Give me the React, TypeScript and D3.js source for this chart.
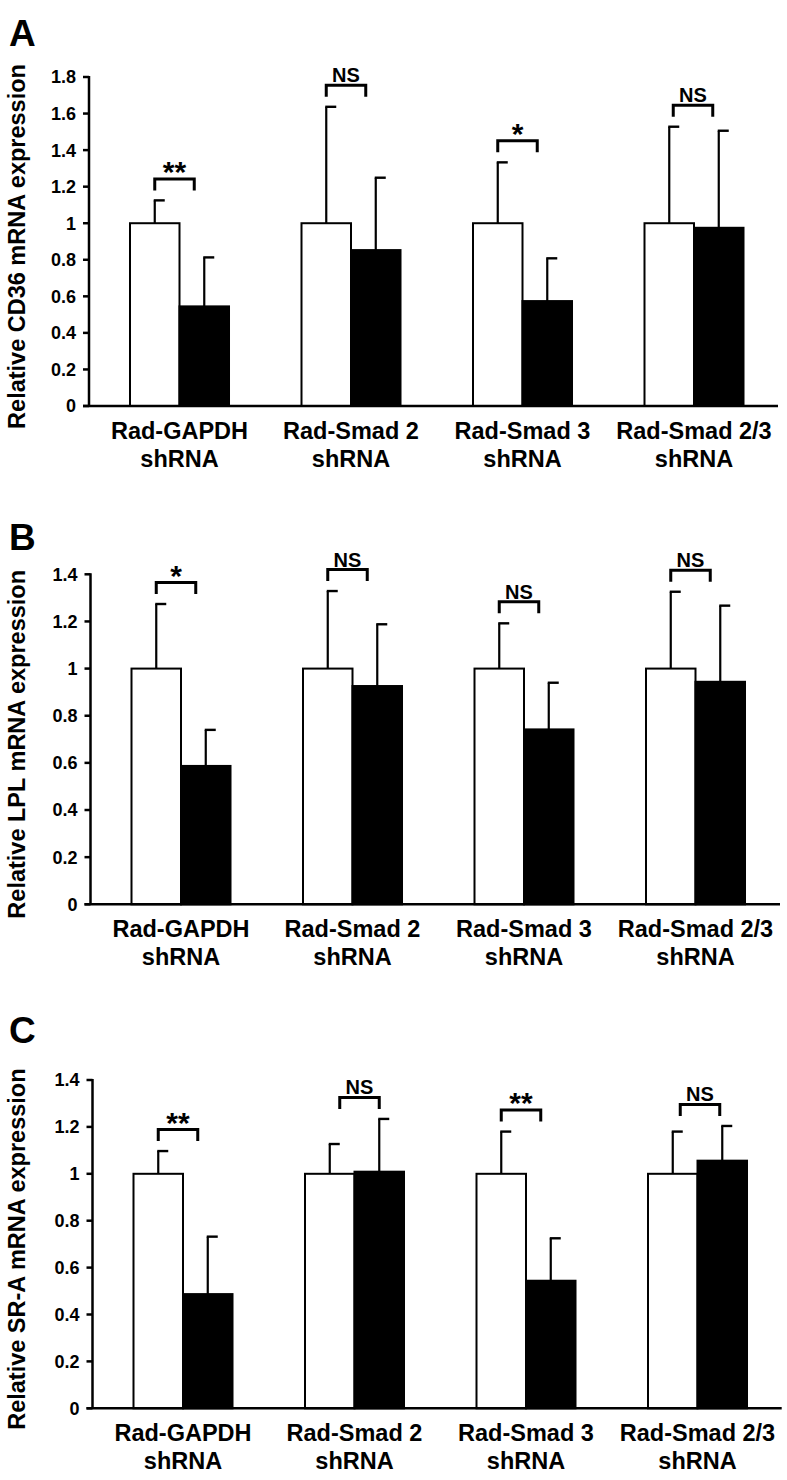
import React from 'react';
import * as d3 from 'd3';

// ---------- data ----------
const categories = ['Rad-GAPDH', 'Rad-Smad 2', 'Rad-Smad 3', 'Rad-Smad 2/3'];
const categorySub = 'shRNA';
const seriesKeys = ['control', 'knockdown'];

// Panel A — CD36
const cd36Control = [1, 1, 1, 1];
const cd36ControlSD = [0.125, 0.637, 0.333, 0.528];
const cd36Knockdown = [0.545, 0.853, 0.574, 0.975];
const cd36KnockdownSD = [0.268, 0.396, 0.234, 0.531];
const cd36Sig = ['**', 'NS', '*', 'NS'];
const cd36Ticks = [0, 0.2, 0.4, 0.6, 0.8, 1, 1.2, 1.4, 1.6, 1.8];

// Panel B — LPL
const lplControl = [1, 1, 1, 1];
const lplControlSD = [0.274, 0.329, 0.192, 0.326];
const lplKnockdown = [0.587, 0.926, 0.742, 0.944];
const lplKnockdownSD = [0.153, 0.262, 0.198, 0.323];
const lplSig = ['*', 'NS', 'NS', 'NS'];
const lplTicks = [0, 0.2, 0.4, 0.6, 0.8, 1, 1.2, 1.4];

// Panel C — SR-A
const sraControl = [1, 1, 1, 1];
const sraControlSD = [0.097, 0.127, 0.18, 0.18];
const sraKnockdown = [0.487, 1.009, 0.544, 1.056];
const sraKnockdownSD = [0.245, 0.225, 0.181, 0.148];
const sraSig = ['**', 'NS', '**', 'NS'];
const sraTicks = [0, 0.2, 0.4, 0.6, 0.8, 1, 1.2, 1.4];

// ---------- layout ----------
const FONT = '"Liberation Sans", Arial, Helvetica, sans-serif';

type PanelCfg = {
  letter: string;
  title: string;
  control: number[];
  controlSD: number[];
  knock: number[];
  knockSD: number[];
  sig: string[];
  ticks: number[];
  axisX: number;
  y0: number;
  yTop: number;
  xEnd: number;
  letterBaseline: number;
  bracketShift: number[];
};

const panels: PanelCfg[] = [
  {
    letter: 'A', title: 'Relative CD36 mRNA expression',
    control: cd36Control, controlSD: cd36ControlSD, knock: cd36Knockdown, knockSD: cd36KnockdownSD,
    sig: cd36Sig, ticks: cd36Ticks,
    axisX: 89, y0: 406, yTop: 77, xEnd: 778, letterBaseline: 46, bracketShift: [0, 0, 0, 4],
  },
  {
    letter: 'B', title: 'Relative LPL mRNA expression',
    control: lplControl, controlSD: lplControlSD, knock: lplKnockdown, knockSD: lplKnockdownSD,
    sig: lplSig, ticks: lplTicks,
    axisX: 90.5, y0: 904.3, yTop: 574.3, xEnd: 780, letterBaseline: 550, bracketShift: [0, 0, 0, 0],
  },
  {
    letter: 'C', title: 'Relative SR-A mRNA expression',
    control: sraControl, controlSD: sraControlSD, knock: sraKnockdown, knockSD: sraKnockdownSD,
    sig: sraSig, ticks: sraTicks,
    axisX: 92.5, y0: 1408.3, yTop: 1080, xEnd: 781.7, letterBaseline: 1043, bracketShift: [0, 10, 0, 7.5],
  },
];

const fmt = d3.format('~g');

function Panel({ p }: { p: PanelCfg }) {
  const yMax = p.ticks[p.ticks.length - 1];
  const y = d3.scaleLinear().domain([0, yMax]).range([p.y0, p.yTop]);
  const step = 171.5;
  const inner = 0.4227;
  const outer = 41 / step;
  const x = d3
    .scaleBand<string>()
    .domain(categories)
    .range([p.axisX, p.axisX + step * (categories.length - inner + 2 * outer)])
    .paddingInner(inner)
    .paddingOuter(outer);
  const xs = d3.scaleBand<string>().domain(seriesKeys).range([0, x.bandwidth()]);
  const bw = xs.bandwidth();
  const capW = 11;
  const bracketW = 39.5;
  const legH = 11.5;
  const gap = 10;
  const midY = (p.y0 + p.yTop) / 2 + 5;

  return (
    <g>
      <text x={9} y={p.letterBaseline} fontSize={37} fontWeight="bold" fontFamily={FONT}>{p.letter}</text>
      <text
        transform={`translate(25,${midY}) rotate(-90)`}
        textAnchor="middle"
        fontSize={23.5}
        fontWeight="bold"
        fontFamily={FONT}
      >
        {p.title}
      </text>
      {/* ticks */}
      {p.ticks.map((t) => (
        <g key={t}>
          <line x1={p.axisX - 6} x2={p.axisX} y1={y(t)} y2={y(t)} stroke="#000" strokeWidth={2.5} />
          <text
            x={p.axisX - 13}
            y={y(t)}
            dy="0.36em"
            textAnchor="end"
            fontSize={18}
            fontWeight="bold"
            fontFamily={FONT}
          >
            {fmt(t)}
          </text>
        </g>
      ))}
      {/* bars */}
      {categories.map((c, i) => {
        const gx = x(c)!;
        const vals = [p.control[i], p.knock[i]];
        const sds = [p.controlSD[i], p.knockSD[i]];
        const tops = vals.map((v, k) => y(v + sds[k]));
        const bracketBottom = Math.min(...tops) - gap;
        const bracketTop = bracketBottom - legH;
        const bx0 = gx + xs('control')! + bw / 2 + p.bracketShift[i];
        const bx1 = bx0 + bracketW;
        const isStar = p.sig[i] !== 'NS';
        return (
          <g key={c}>
            {seriesKeys.map((s, k) => {
              const bx = gx + xs(s)!;
              const cx = bx + bw / 2;
              return (
                <g key={s}>
                  <line x1={cx} x2={cx} y1={y(vals[k])} y2={tops[k]} stroke="#000" strokeWidth={2.2} />
                  <line x1={cx - 1} x2={cx + capW - 1} y1={tops[k]} y2={tops[k]} stroke="#000" strokeWidth={2.4} />
                  <rect
                    x={bx}
                    y={y(vals[k])}
                    width={bw}
                    height={p.y0 - y(vals[k])}
                    fill={k === 0 ? '#fff' : '#000'}
                    stroke="#000"
                    strokeWidth={2}
                  />
                </g>
              );
            })}
            <path
              d={`M${bx0},${bracketBottom}V${bracketTop}H${bx1}V${bracketBottom}`}
              fill="none"
              stroke="#000"
              strokeWidth={3}
            />
            <text
              x={(bx0 + bx1) / 2}
              y={isStar ? bracketTop + 3 : bracketTop - 3}
              textAnchor="middle"
              fontSize={isStar ? 30 : 20}
              fontWeight="bold"
              fontFamily={FONT}
            >
              {p.sig[i]}
            </text>
            <text
              x={gx + x.bandwidth() / 2}
              y={p.y0 + 33}
              textAnchor="middle"
              fontSize={23.5}
              fontWeight="bold"
              fontFamily={FONT}
            >
              {c}
            </text>
            <text
              x={gx + x.bandwidth() / 2}
              y={p.y0 + 60.5}
              textAnchor="middle"
              fontSize={23.5}
              fontWeight="bold"
              fontFamily={FONT}
            >
              {categorySub}
            </text>
          </g>
        );
      })}
      {/* axes */}
      <line x1={p.axisX} x2={p.axisX} y1={p.yTop - 1} y2={p.y0} stroke="#000" strokeWidth={2.5} />
      <line x1={p.axisX - 6} x2={p.xEnd} y1={p.y0} y2={p.y0} stroke="#000" strokeWidth={2.5} />
    </g>
  );
}

export default function App() {
  return (
    <svg
      width={787}
      height={1480}
      viewBox="0 0 787 1480"
      style={{ position: 'absolute', left: 0, top: 0, display: 'block', background: '#fff' }}
    >
      <rect width={787} height={1480} fill="#fff" />
      {panels.map((p) => (
        <Panel key={p.letter} p={p} />
      ))}
    </svg>
  );
}
